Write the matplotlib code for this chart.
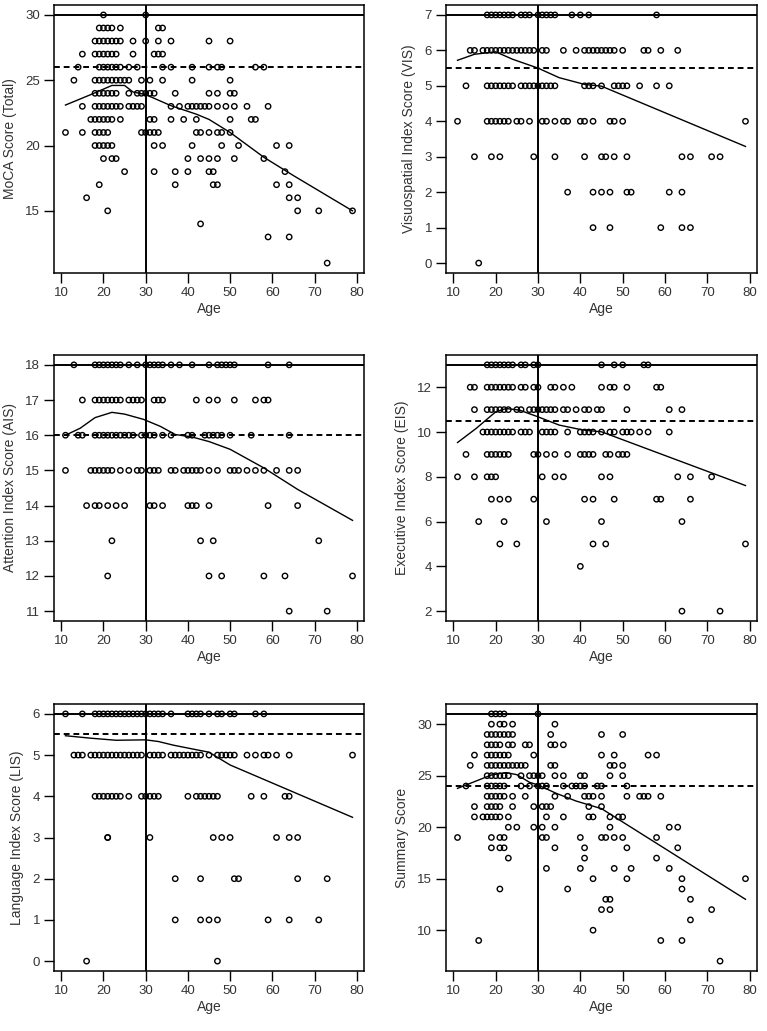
import numpy as np
import matplotlib.pyplot as plt

plt.rcParams['font.family'] = ['Liberation Sans', 'DejaVu Sans']

# scores -> list of ages with that score
moca = {
    30: [20, 30],
    29: [19, 20, 21, 22, 24, 33, 34],
    28: [18, 19, 20, 21, 22, 23, 24, 27, 30, 33, 36, 45, 50],
    27: [15, 18, 19, 20, 21, 22, 23, 27, 32, 33, 34],
    26: [14, 19, 20, 21, 22, 23, 24, 26, 28, 34, 36, 41, 45, 47, 48, 56, 58],
    25: [13, 18, 19, 20, 21, 22, 23, 24, 25, 26, 29, 31, 34, 41, 50],
    24: [18, 19, 20, 21, 22, 23, 26, 28, 29, 30, 31, 32, 37, 45, 47, 50, 51],
    23: [15, 18, 19, 20, 21, 22, 23, 24, 26, 27, 28, 29, 36, 38, 40, 41, 42, 43, 44, 45, 47, 49, 51, 54, 59],
    22: [17, 18, 19, 20, 21, 22, 24, 31, 32, 36, 39, 42, 50, 55, 56],
    21: [11, 15, 18, 19, 20, 21, 29, 30, 31, 32, 33, 42, 43, 45, 47, 48, 50],
    20: [18, 19, 20, 21, 22, 32, 34, 41, 48, 52, 61, 64],
    19: [20, 22, 23, 40, 43, 45, 47, 51, 58],
    18: [25, 32, 37, 40, 45, 46, 63],
    17: [19, 37, 46, 47, 61, 64],
    16: [16, 64, 66],
    15: [21, 66, 71, 79],
    14: [43],
    13: [59, 64],
    11: [73],
}
vis = {
    7: [18, 19, 20, 21, 22, 23, 24, 26, 27, 28, 30, 31, 32, 33, 34, 38, 40, 42, 58],
    6: [14, 15, 17, 18, 19, 20, 21, 22, 23, 24, 25, 26, 27, 28, 29, 31, 32, 36, 39, 41, 42, 43, 44, 45, 46, 47, 48, 50, 55, 56, 59, 63],
    5: [13, 18, 19, 20, 21, 22, 23, 24, 26, 27, 28, 29, 30, 31, 32, 33, 34, 41, 42, 43, 45, 48, 49, 50, 51, 54, 58, 61],
    4: [11, 18, 19, 20, 21, 22, 23, 25, 26, 28, 31, 32, 34, 36, 37, 40, 41, 43, 47, 48, 50, 79],
    3: [15, 19, 21, 29, 34, 41, 45, 46, 48, 51, 64, 66, 71, 73],
    2: [37, 43, 45, 47, 51, 52, 61, 64],
    1: [43, 47, 59, 64, 66],
    0: [16],
}
ais = {
    18: [13, 18, 19, 20, 21, 22, 23, 24, 26, 28, 30, 31, 32, 33, 34, 36, 38, 41, 45, 47, 48, 49, 50, 51, 59, 64],
    17: [15, 18, 19, 20, 21, 22, 23, 24, 26, 27, 28, 29, 32, 33, 34, 42, 45, 47, 51, 56, 58, 59],
    16: [11, 14, 15, 18, 19, 20, 21, 22, 23, 24, 25, 26, 27, 29, 30, 31, 32, 34, 36, 40, 41, 44, 45, 46, 47, 48, 50, 55, 64],
    15: [11, 17, 18, 19, 20, 21, 22, 24, 26, 28, 29, 31, 32, 33, 36, 37, 39, 40, 41, 42, 43, 45, 47, 50, 51, 52, 54, 56, 58, 61, 64, 66],
    14: [16, 18, 19, 21, 23, 25, 31, 32, 34, 40, 41, 42, 45, 59, 66],
    13: [22, 43, 46, 71],
    12: [21, 45, 48, 58, 63, 79],
    11: [64, 73],
}
eis = {
    13: [18, 19, 20, 21, 22, 23, 24, 26, 27, 29, 30, 45, 48, 50, 55, 56],
    12: [14, 15, 18, 19, 20, 21, 22, 23, 24, 26, 27, 29, 30, 33, 34, 36, 38, 45, 47, 48, 51, 58, 59],
    11: [15, 18, 19, 20, 21, 22, 23, 25, 26, 28, 29, 30, 31, 32, 33, 34, 36, 37, 39, 41, 42, 44, 45, 51, 61, 64],
    10: [17, 18, 19, 20, 21, 22, 23, 24, 26, 27, 28, 31, 32, 33, 34, 37, 40, 41, 42, 43, 45, 47, 48, 50, 51, 52, 54, 56, 61],
    9: [13, 18, 19, 20, 21, 22, 23, 29, 30, 32, 34, 37, 40, 41, 42, 43, 46, 47, 49, 50, 51],
    8: [11, 15, 18, 19, 20, 31, 34, 36, 45, 47, 63, 66, 71],
    7: [19, 21, 23, 29, 41, 43, 48, 58, 59, 66],
    6: [16, 22, 32, 45, 64],
    5: [21, 25, 43, 46, 79],
    4: [40],
    2: [64, 73],
}
lis = {
    6: [11, 15, 18, 19, 20, 21, 22, 23, 24, 25, 26, 27, 28, 29, 30, 31, 32, 33, 34, 36, 40, 41, 42, 43, 45, 47, 48, 50, 51, 56, 58],
    5: [13, 14, 15, 17, 18, 19, 20, 21, 22, 23, 24, 25, 26, 27, 28, 29, 31, 32, 33, 34, 36, 37, 38, 39, 40, 41, 42, 43, 45, 47, 48, 49, 50, 51, 54, 56, 58, 59, 61, 64, 79],
    4: [18, 19, 20, 21, 22, 23, 24, 26, 29, 30, 31, 32, 33, 40, 42, 43, 44, 45, 46, 47, 55, 58, 63, 64],
    3: [21, 21, 31, 46, 48, 50, 61, 64, 66],
    2: [37, 43, 51, 52, 66, 73],
    1: [37, 43, 45, 47, 59, 64, 71],
    0: [16, 47],
}
summ = {
    31: [19, 20, 21, 22, 30],
    30: [19, 21, 22, 24, 34],
    29: [18, 19, 20, 21, 22, 23, 24, 33, 45, 50],
    28: [18, 19, 20, 21, 23, 24, 27, 28, 33, 34, 36],
    27: [15, 18, 19, 20, 21, 22, 23, 29, 45, 48, 56, 58],
    26: [14, 18, 19, 20, 21, 22, 23, 24, 25, 26, 27, 33, 34, 47, 48, 50],
    25: [18, 19, 20, 21, 22, 23, 26, 28, 29, 30, 31, 34, 36, 40, 41, 47, 50],
    24: [13, 18, 19, 20, 21, 22, 26, 28, 30, 31, 32, 36, 38, 39, 40, 41, 44, 45, 51],
    23: [18, 19, 20, 21, 22, 24, 27, 34, 37, 41, 42, 43, 45, 51, 54, 55, 56, 59],
    22: [15, 18, 19, 20, 21, 24, 29, 31, 32, 33, 42, 45],
    21: [15, 17, 18, 19, 20, 21, 23, 32, 36, 42, 43, 47, 49, 50],
    20: [23, 25, 29, 31, 34, 47, 61, 63],
    19: [11, 19, 21, 22, 31, 32, 40, 45, 46, 48, 50, 58],
    18: [19, 21, 22, 34, 41, 51, 63],
    17: [23, 41, 58],
    16: [32, 40, 48, 52, 61],
    15: [43, 51, 64, 79],
    14: [21, 37, 64],
    13: [46, 47, 66],
    12: [45, 47, 71],
    11: [66],
    10: [43],
    9: [16, 59, 64],
    7: [73],
}

# smoothed (lowess) curves
moca_fit_x = [11, 17, 22, 25, 27, 30, 36, 42, 45, 50, 58, 65, 79]
moca_fit_y = [23.1, 23.9, 24.6, 24.6, 24.1, 23.9, 23.05, 22.4, 22.0, 21.0, 19.1, 17.7, 15.0]
vis_fit_x = [11, 15, 20, 24, 30, 35, 41, 45, 60, 79]
vis_fit_y = [5.72, 5.89, 5.96, 5.75, 5.5, 5.23, 5.04, 4.99, 4.24, 3.29]
ais_fit_x = [11, 14.5, 18, 22, 25, 29.5, 33.5, 37, 41, 45, 50, 58, 66, 79]
ais_fit_y = [16.0, 16.2, 16.5, 16.65, 16.6, 16.45, 16.25, 16.02, 15.95, 15.82, 15.6, 15.07, 14.46, 13.58]
eis_fit_x = [11, 15.4, 20, 22.5, 25.6, 30, 35, 40.6, 45, 60, 79]
eis_fit_y = [9.53, 10.16, 10.9, 11.05, 10.98, 10.68, 10.31, 10.09, 10.01, 8.95, 7.61]
lis_fit_x = [11, 17, 23, 30, 33, 36.6, 42, 45, 50, 79]
lis_fit_y = [5.47, 5.41, 5.36, 5.37, 5.33, 5.24, 5.13, 5.07, 4.76, 3.49]
summ_fit_x = [11, 15, 19, 22.5, 25, 28, 30, 34.3, 39, 45, 79]
summ_fit_y = [23.77, 24.42, 25.07, 25.3, 25.1, 24.36, 24.1, 23.29, 22.54, 21.8, 13.0]

max_scores = [30, 7, 18, 13, 6, 31]
cutoffs = [26, 5.5, 16, 10.5, 5.5, 24]
ylabels = ['MoCA Score (Total)', 'Visuospatial Index Score (VIS)', 'Attention Index Score (AIS)',
           'Executive Index Score (EIS)', 'Language Index Score (LIS)', 'Summary Score']
yticks = [[15, 20, 25, 30], list(range(0, 8)), list(range(11, 19)),
          [2, 4, 6, 8, 10, 12], list(range(0, 7)), [10, 15, 20, 25, 30]]
age_cut = 30

data = [moca, vis, ais, eis, lis, summ]
fits = [(moca_fit_x, moca_fit_y), (vis_fit_x, vis_fit_y), (ais_fit_x, ais_fit_y),
        (eis_fit_x, eis_fit_y), (lis_fit_x, lis_fit_y), (summ_fit_x, summ_fit_y)]

W, H = 767, 1031
fig = plt.figure(figsize=(W / 100, H / 100), dpi=100)
# pixel boxes: left, top, right, bottom
boxes = [(54, 5, 364, 273), (446, 5, 757, 273),
         (54, 355, 364, 621), (446, 355, 757, 621),
         (54, 704, 364, 971), (446, 704, 757, 971)]

txt = '#333333'
for i, rows in enumerate(data):
    l, t, r, b = boxes[i]
    ax = fig.add_axes([l / W, 1 - b / H, (r - l) / W, (b - t) / H])
    x, y = [], []
    for score, ages in rows.items():
        x += ages
        y += [score] * len(ages)
    x = np.array(x)
    y = np.array(y)

    ax.scatter(x, y, s=15, facecolors='none', edgecolors='black', linewidths=1.0, zorder=3)
    ax.plot(fits[i][0], fits[i][1], color='black', lw=1.0, zorder=4)
    ax.axhline(max_scores[i], color='black', lw=1.4, zorder=2)
    ax.axhline(cutoffs[i], color='black', lw=1.4, linestyle=(0, (3, 2)), zorder=2)
    ax.axvline(age_cut, color='black', lw=1.4, zorder=2)

    xr = x.max() - x.min()
    ax.set_xlim(x.min() - 0.04 * xr, x.max() + 0.04 * xr)
    yr = y.max() - y.min()
    ax.set_ylim(y.min() - 0.04 * yr, y.max() + 0.04 * yr)
    ax.set_xticks(range(10, 81, 10))
    ax.set_yticks(yticks[i])
    ax.tick_params(direction='out', length=7, width=1.0, labelsize=9.5, colors='black',
                   labelcolor=txt, pad=3)
    for s in ax.spines.values():
        s.set_linewidth(1.1)
    ax.set_xlabel('Age', fontsize=10, color=txt, labelpad=2)
    ax.set_ylabel(ylabels[i], fontsize=10, color=txt, labelpad=6)

fig.savefig('out.png', dpi=100)
